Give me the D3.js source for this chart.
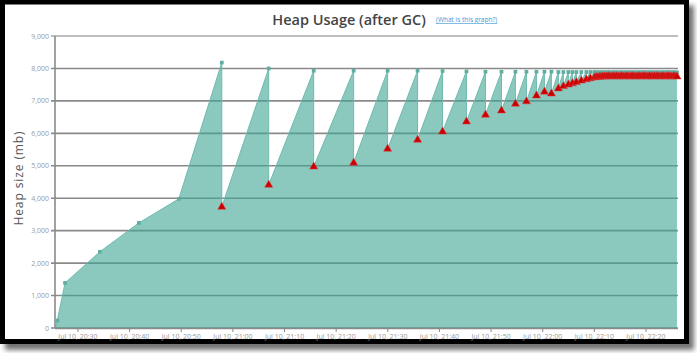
<!DOCTYPE html>
<html lang="en">
<head>
<meta charset="UTF-8">
<title>Heap Usage (after GC)</title>
<script src="https://d3js.org/d3.v7.min.js"></script>
<style>
	body{margin:0;background:#fff;}
	svg text{font-family:"Open Sans",sans-serif;}
</style>
</head>
<body>
<div id="chart"></div>
<script>
// heap before the first collection
const rampTimes  = ["20:25:40","20:26:00","20:27:30","20:34:15","20:41:48","20:49:32"];
const rampValues = [0, 230, 1390, 2350, 3240, 3980];

// each GC: time, heap before (peak) and after (triangle)
const gcTimes = ["20:57:51","21:06:56","21:15:39","21:23:23","21:29:58","21:35:46","21:40:36","21:45:14",
	"21:48:55","21:52:01","21:54:43","21:56:51","21:58:47","22:00:20","22:01:41","22:03:02",
	"22:04:00","22:04:58","22:05:45","22:06:31","22:07:29","22:08:27","22:09:14","22:10:00",
	"22:10:20","22:10:40","22:11:00","22:11:20","22:11:40","22:12:00","22:12:20","22:12:40",
	"22:13:00","22:13:20","22:13:40","22:14:00","22:14:20","22:14:40","22:15:00","22:15:20",
	"22:15:40","22:16:00","22:16:20","22:16:40","22:17:00","22:17:20","22:17:40","22:18:00",
	"22:18:20","22:18:40","22:19:00","22:19:20","22:19:40","22:20:00","22:20:20","22:20:40",
	"22:21:00","22:21:20","22:21:40","22:22:00","22:22:20","22:22:40","22:23:00","22:23:20",
	"22:23:40","22:24:00","22:24:20","22:24:40","22:25:00","22:25:20","22:25:40","22:26:00"];
const gcBefore = [8180,8000,7930,7930,7930,7930,7920,7910,
	7900,7900,7900,7900,7900,7900,7900,7890,
	7890,7890,7890,7890,7890,7890,7890,7890,
	7880,7880,7880,7880,7880,7880,7880,7880,
	7880,7880,7880,7880,7880,7880,7880,7880,
	7880,7880,7880,7880,7880,7880,7880,7880,
	7880,7880,7880,7880,7880,7880,7880,7880,
	7880,7880,7880,7880,7880,7880,7880,7880,
	7880,7880,7880,7880,7880,7880,7880,7880];
const gcAfter = [3730,4410,4970,5090,5520,5800,6050,6360,
	6570,6700,6910,6980,7160,7280,7220,7380,
	7450,7500,7540,7580,7620,7660,7690,7720,
	7730,7735,7740,7750,7745,7755,7750,7760,
	7755,7750,7760,7755,7760,7750,7755,7760,
	7750,7755,7760,7750,7755,7760,7755,7750,
	7755,7760,7750,7755,7760,7755,7750,7760,
	7755,7750,7760,7755,7760,7750,7755,7760,
	7750,7755,7760,7755,7750,7760,7755,7750];

const xTicks = ["20:30","20:40","20:50","21:00","21:10","21:20","21:30","21:40","21:50","22:00","22:10","22:20"];
const yTicks = [0,1000,2000,3000,4000,5000,6000,7000,8000,9000];

const W=697, H=353;
const parse = s => d3.timeParse("%Y-%m-%d %H:%M:%S")("2013-07-10 " + (s.length==5 ? s+":00" : s));

const svg = d3.select("#chart").append("svg").attr("width",W).attr("height",H);

// frame with shadow
const defs = svg.append("defs");
const f = defs.append("filter").attr("id","shadow").attr("x","-5%").attr("y","-5%").attr("width","115%").attr("height","120%");
f.append("feDropShadow").attr("dx",5).attr("dy",6).attr("stdDeviation",2.5).attr("flood-color","#000").attr("flood-opacity",0.55);
svg.append("rect").attr("x",2.5).attr("y",2).attr("width",684).attr("height",339.5)
	.attr("fill","#fff").attr("stroke","#000").attr("stroke-width",5).attr("filter","url(#shadow)");

const x = d3.scaleTime().domain([parse("20:25:33"), parse("22:26:12")]).range([55,678]);
const y = d3.scaleLinear().domain([0,9000]).range([328,36]);

// gridlines
svg.append("g").selectAll("line").data(yTicks).enter().append("line")
	.attr("x1",51).attr("x2",678).attr("y1",d=>y(d)).attr("y2",d=>y(d))
	.attr("stroke",d=>d==9000?"#aaa":"#8a8a8a").attr("stroke-width",1.6);

// y labels
svg.append("g").selectAll("text").data(yTicks).enter().append("text")
	.attr("x",49).attr("y",d=>y(d)+2.5).attr("text-anchor","end")
	.attr("font-size",7).attr("fill","#9a9a9a").text(d3.format(","));

// build area points
const pts = rampTimes.map((t,i)=>({t:parse(t),v:rampValues[i]}));
gcTimes.forEach((t,i)=>{
	pts.push({t:parse(t),v:gcBefore[i]});
	pts.push({t:parse(t),v:gcAfter[i]});
});

const area = d3.area().x(d=>x(d.t)).y0(y(0)).y1(d=>y(d.v));
const line = d3.line().x(d=>x(d.t)).y(d=>y(d.v));
svg.append("path").datum(pts).attr("d",area).attr("fill","rgb(62,165,148)").attr("fill-opacity",0.6);
svg.append("path").datum(pts).attr("d",line).attr("fill","none").attr("stroke","#6fbaad").attr("stroke-width",1);

// axes lines
svg.append("line").attr("x1",55).attr("x2",55).attr("y1",36).attr("y2",328).attr("stroke","#8a8a8a").attr("stroke-width",1.6);
svg.append("line").attr("x1",55).attr("x2",678).attr("y1",328.5).attr("y2",328.5).attr("stroke","#8a8a8a").attr("stroke-width",1.6);

// x ticks
const xt = svg.append("g").selectAll("g").data(xTicks).enter().append("g")
	.attr("transform",d=>`translate(${x(parse(d))},0)`);
xt.append("line").attr("y1",328).attr("y2",332).attr("stroke","#8a8a8a");
xt.append("text").attr("y",338.5).attr("text-anchor","middle").attr("font-size",7).attr("fill","#999")
	.text(d=>d3.timeFormat("%b %d, %H:%M")(parse(d)));

// markers
const ramp = rampTimes.map((t,i)=>({t:parse(t),v:rampValues[i]})).slice(1);
svg.append("g").selectAll("path").data(ramp.concat(gcTimes.map((t,i)=>({t:parse(t),v:gcBefore[i]}))))
	.enter().append("path").attr("d",d3.symbol(d3.symbolSquare).size(14))
	.attr("transform",d=>`translate(${x(d.t)},${y(d.v)})`).attr("fill","#5faea0");
svg.append("g").selectAll("path").data(gcTimes.map((t,i)=>({t:parse(t),v:gcAfter[i]})))
	.enter().append("path").attr("d",d3.symbol(d3.symbolTriangle).size(28))
	.attr("transform",d=>`translate(${x(d.t)},${y(d.v)})`).attr("fill","#cc0000").attr("stroke","#d84040").attr("stroke-width",0.5);

// titles
svg.append("text").attr("x",349).attr("y",25).attr("text-anchor","middle")
	.attr("font-size",14.5).attr("font-weight",600).attr("fill","#444").text("Heap Usage (after GC)");
svg.append("text").attr("x",436).attr("y",22).attr("font-size",6.5).attr("fill","#3a9ad9")
	.attr("text-decoration","underline").text("(What is this graph?)");
svg.append("text").attr("transform","translate(23,178) rotate(-90)").attr("text-anchor","middle")
	.attr("font-size",12).attr("letter-spacing",0.9).attr("fill","#555").text("Heap size (mb)");
</script>
</body>
</html>
